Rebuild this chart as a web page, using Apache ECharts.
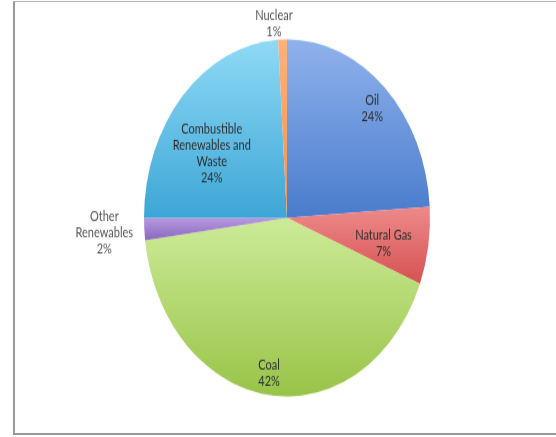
<!DOCTYPE html>
<html>
<head>
<meta charset="utf-8">
<script src="https://cdn.jsdelivr.net/npm/echarts@6/dist/echarts.min.js"></script>
<style>
  body { margin: 0; background: #fff; }
  #frame {
    position: absolute; left: 13px; top: 1px; width: 543px; height: 434px;
    box-sizing: border-box;
    border-left: 2px solid #9a9a9a; border-top: 1px solid #b4b4b4; border-bottom: 2px solid #9a9a9a;
  }
  /* the original picture is stretched vertically, so the pie is drawn round and then squashed into an ellipse */
  #main {
    position: absolute; left: 0; top: 0; width: 556px; height: 350px;
    transform: scaleY(1.2486); transform-origin: 0 0;
  }
</style>
</head>
<body>
<div id="frame"></div>
<div id="main"></div>
<script>
var sources = ['Oil', 'Natural Gas', 'Coal', 'Other Renewables', 'Combustible Renewables and Waste', 'Nuclear'];
var shares = [24, 7, 42, 2, 24, 1];
var labelText = ['Oil', 'Natural Gas', 'Coal', 'Other\nRenewables', 'Combustible\nRenewables and\nWaste', 'Nuclear'];

var colorTop = ['#8fb2ec', '#ee8a8a', '#cdeb98', '#b69ae0', '#8fdaf6', '#fbb27a'];
var colorBottom = ['#4a7ccc', '#d65252', '#98c448', '#8a68c0', '#3da6d6', '#f49050'];
// where each label sits: fraction of the radius, and a small turn off the slice middle (degrees)
var labelDist = [0.855, 0.69, 0.88, 1.28, 0.636, 1.09];
var labelTurn = [1, 3, 1, 0, -9, -3];

var cx = 287, cy = 174.5, radius = 143;

var total = 0;
shares.forEach(function (v) { total += v; });
var midAngle = [];
var acc = 0;
shares.forEach(function (v) {
  midAngle.push((acc + v / 2) / total * 360);
  acc += v;
});

var chart = echarts.init(document.getElementById('main'));

var option = {
  animation: false,
  series: [
    {
      type: 'pie',
      center: [cx, cy],
      radius: radius,
      startAngle: 90,
      clockwise: true,
      percentPrecision: 0,
      avoidLabelOverlap: false,
      emphasis: { disabled: true },
      labelLine: { show: false },
      label: {
        show: true,
        position: 'inside',
        fontFamily: 'Lato',
        fontSize: 11,
        lineHeight: 13,
        color: '#2e2e2e',
        align: 'center',
        formatter: function (p) {
          return labelText[p.dataIndex] + '\n' + p.percent + '%';
        }
      },
      labelLayout: function (params) {
        var i = params.dataIndex;
        var a = (midAngle[i] + labelTurn[i]) * Math.PI / 180;
        var d = labelDist[i] * radius;
        return {
          x: cx + d * Math.sin(a),
          y: cy - d * Math.cos(a),
          align: 'center',
          verticalAlign: 'middle'
        };
      },
      data: sources.map(function (name, i) {
        var outside = labelDist[i] > 1;
        return {
          name: name,
          value: shares[i],
          itemStyle: {
            color: new echarts.graphic.LinearGradient(0, 0, 0, 1, [
              { offset: 0, color: colorTop[i] },
              { offset: 1, color: colorBottom[i] }
            ])
          },
          label: outside ? { color: '#555' } : {}
        };
      })
    }
  ]
};

chart.setOption(option);
</script>
</body>
</html>
